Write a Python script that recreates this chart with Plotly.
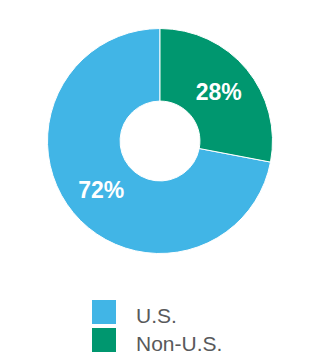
import plotly.graph_objects as go

labels = ["U.S.", "Non-U.S."]
values = [72, 28]
colors = ["#41B5E6", "#00976F"]

# U.S. slice starts where Non-U.S. ends (Non-U.S. runs clockwise from 12 o'clock)
start_angle = 360 * values[1] / sum(values)

fig = go.Figure()
fig.add_trace(go.Pie(
    labels=labels,
    values=values,
    sort=False,
    direction="clockwise",
    rotation=start_angle,
    hole=0.355,
    marker=dict(colors=colors, line=dict(color="#FFFFFF", width=1)),
    textinfo="percent",
    texttemplate="%{percent:.0%}",
    textposition="inside",
    insidetextorientation="horizontal",
    textfont=dict(family="Liberation Sans, Arial, sans-serif", size=23, color="#FFFFFF", weight="bold"),
    domain=dict(x=[0, 1], y=[0.2958, 0.9208]),
    showlegend=False,
    hoverinfo="label+percent",
))

# manual legend (large swatches)
sw_top = [300, 328]
for i, (lab, col) in enumerate(zip(labels, colors)):
    y0 = sw_top[i]
    fig.add_shape(type="rect", xref="paper", yref="paper",
                  x0=92 / 320, x1=116 / 320,
                  y0=1 - (y0 + 24) / 360, y1=1 - y0 / 360,
                  fillcolor=col, line=dict(width=0))
    fig.add_annotation(xref="paper", yref="paper", x=134 / 320, y=1 - (y0 + 15) / 360,
                       text=lab, showarrow=False, xanchor="left", yanchor="middle",
                       font=dict(family="Liberation Sans, Arial, sans-serif", size=21, color="#58595B"))

fig.update_layout(
    width=320, height=360,
    margin=dict(l=0, r=0, t=0, b=0),
    paper_bgcolor="#FFFFFF",
    plot_bgcolor="#FFFFFF",
)

fig.write_html("out.html")
